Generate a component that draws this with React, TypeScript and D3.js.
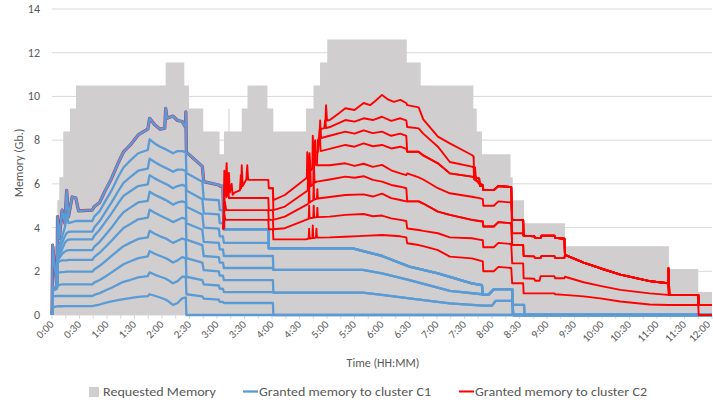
import React from 'react';
import * as d3 from 'd3';

type P = [number, number];

// ---------- Requested memory (step area), time in minutes, value in Gb ----------
const requestedTimes = [0, 5.8, 8, 12.3, 19.6, 26.2, 124, 144.3, 149.5, 165, 182.8, 187.6, 192.5, 193.6, 207, 213.3, 235, 241.4, 277, 285.3, 292.4, 300.3, 387, 402.2, 459.6, 463.3, 469, 500.2, 502.6, 515, 559.6, 673, 705, 720];
const requestedGb = [3.15, 5.25, 6.3, 8.4, 9.45, 10.5, 11.55, 10.5, 9.45, 8.4, 7.35, 8.4, 9.45, 8.4, 9.45, 10.5, 9.45, 8.4, 9.45, 10.5, 11.55, 12.6, 11.55, 10.5, 9.45, 8.4, 7.35, 6.3, 5.25, 4.2, 3.15, 2.1, 1.05, 1.05];

// ---------- Cluster C1 (stacked lines), common early times ----------
const c1Times = [0, 0.6, 5.4, 6, 8, 11, 14, 16, 18, 22, 26, 29, 44, 46, 52, 58, 65, 72, 78, 85, 94, 104.5, 106.5, 112, 118, 123, 124, 125.5, 132, 137, 142, 145.5, 146, 146.6, 164, 165.5, 182, 183, 186.5, 187.5, 236, 236.5, 241, 241.5];
const c1L1 = [0, 0.35, 0.39, 0.4, 0.4, 0.4, 0.41, 0.41, 0.41, 0.41, 0.41, 0.41, 0.41, 0.43, 0.48, 0.55, 0.62, 0.68, 0.73, 0.77, 0.83, 0.86, 0.95, 0.88, 0.8, 0.72, 0.7, 0.67, 0.46, 0.55, 0.76, 0.8, 0.8, 0, 0, 0, 0, 0, 0, 0, 0, 0, 0, 0];
const c1L2 = [0, 0.85, 0.87, 0.87, 0.87, 0.87, 0.87, 0.87, 0.87, 0.87, 0.87, 0.87, 0.87, 0.92, 1.0, 1.12, 1.25, 1.4, 1.52, 1.6, 1.72, 1.78, 1.95, 1.85, 1.75, 1.68, 1.66, 1.63, 1.45, 1.55, 1.75, 1.75, 1.75, 0.95, 0.85, 0.75, 0.7, 0.6, 0.6, 0.55, 0.55, 0.55, 0.55, 0];
const c1L3 = [0, 1.1, 1.2, 1.35, 1.38, 1.4, 1.4, 1.4, 1.4, 1.4, 1.4, 1.4, 1.4, 1.48, 1.6, 1.75, 1.95, 2.15, 2.32, 2.45, 2.6, 2.68, 2.92, 2.8, 2.7, 2.62, 2.6, 2.57, 2.4, 2.5, 2.65, 2.6, 2.6, 1.75, 1.6, 1.4, 1.35, 1.2, 1.2, 1.05, 1.05, 1.05, 1.05, 1.02];
const c1L4 = [0, 1.15, 1.25, 1.9, 1.95, 1.96, 1.97, 1.98, 1.98, 1.98, 1.98, 1.98, 1.98, 2.08, 2.25, 2.45, 2.7, 2.95, 3.15, 3.3, 3.48, 3.55, 3.85, 3.72, 3.6, 3.52, 3.5, 3.47, 3.3, 3.4, 3.5, 3.45, 3.45, 2.6, 2.4, 2.05, 2.0, 1.8, 1.8, 1.6, 1.6, 1.6, 1.6, 1.02];
const c1L5 = [0, 1.2, 1.3, 2.4, 2.45, 2.5, 2.5, 2.5, 2.52, 2.52, 2.52, 2.52, 2.52, 2.65, 2.85, 3.1, 3.4, 3.72, 3.98, 4.15, 4.38, 4.45, 4.82, 4.68, 4.55, 4.45, 4.43, 4.4, 4.25, 4.35, 4.45, 4.4, 4.4, 3.45, 3.2, 2.7, 2.65, 2.4, 2.4, 2.15, 2.15, 2.15, 2.15, 2.06];
const c1L6 = [0, 1.2, 1.3, 2.5, 2.6, 2.8, 2.9, 2.95, 2.97, 2.97, 2.97, 2.97, 2.97, 3.12, 3.35, 3.65, 4.0, 4.4, 4.7, 4.9, 5.15, 5.22, 5.64, 5.5, 5.38, 5.28, 5.26, 5.23, 5.05, 5.15, 5.2, 5.15, 5.15, 4.2, 3.9, 3.35, 3.3, 3.0, 3.0, 2.7, 2.7, 2.7, 2.7, 2.06];
const c1L7 = [0, 1.2, 1.3, 2.6, 2.7, 3.0, 3.3, 3.4, 3.45, 3.46, 3.46, 3.46, 3.46, 3.62, 3.9, 4.25, 4.65, 5.1, 5.45, 5.65, 5.9, 5.98, 6.4, 6.25, 6.12, 6.02, 6.0, 5.97, 5.8, 5.9, 5.95, 5.9, 5.9, 4.95, 4.6, 4.0, 3.95, 3.6, 3.6, 3.3, 3.3, 3.05, 3.05, 3.05];
const c1L8 = [0, 1.2, 1.3, 2.7, 2.9, 3.3, 3.6, 3.75, 3.8, 3.81, 3.81, 3.81, 3.81, 4.0, 4.3, 4.7, 5.15, 5.65, 6.05, 6.3, 6.6, 6.7, 7.15, 7.0, 6.85, 6.75, 6.73, 6.7, 6.55, 6.65, 6.65, 6.6, 6.6, 5.7, 5.3, 4.65, 4.6, 4.2, 4.2, 3.92, 3.92, 3.05, 3.05, 3.05];
const c1L9 = [0, 1.25, 1.3, 2.8, 3.2, 3.6, 4.0, 4.6, 4.2, 4.25, 4.3, 4.3, 4.3, 4.5, 4.75, 5.2, 5.7, 6.3, 6.75, 7.05, 7.4, 7.55, 8.04, 7.85, 7.7, 7.6, 7.58, 7.55, 7.4, 7.5, 7.5, 7.45, 7.45, 6.5, 6.1, 5.3, 5.25, 4.8, 4.8, 3.92, 3.92, 3.05, 3.05, 3.05];
const c1L10 = [0, 3.2, 1.3, 4.5, 3.5, 4.8, 4.2, 5.7, 4.5, 5.4, 5.35, 4.76, 4.8, 4.95, 5.15, 5.69, 6.25, 6.94, 7.46, 7.76, 8.24, 8.5, 9.0, 8.7, 8.5, 8.55, 9.46, 9.0, 9.1, 8.9, 8.85, 8.6, 9.3, 7.45, 6.8, 6.1, 5.95, 5.9, 5.9, 3.92, 3.92, 3.05, 3.05, 3.05];

// C1 tails after 4:00
const c1TailZero: P[] = [[720, 0]];
const c1TailLow: P[] = [[339, 1.02], [360, 0.92], [390, 0.76], [434, 0.53], [470, 0.43], [480, 0.43], [484, 0.65], [502, 0.65], [503, 0.46], [515, 0.46], [515.5, 0], [720, 0]];
const c1TailMid: P[] = [[339, 2.06], [360, 1.9], [390, 1.6], [434, 1.1], [469, 0.95], [470, 0.92], [476, 0.92], [482, 1.18], [502, 1.18], [503, 0], [720, 0]];
const c1TailTop: P[] = [[328, 3.05], [360, 2.7], [390, 2.21], [421, 1.9], [458, 1.45], [469, 1.37], [470, 0.92], [476, 0.92], [482, 1.18], [502, 1.18], [503, 0], [720, 0]];

// ---------- Cluster C2 (stacked lines above C1 total) ----------
const c2R1: P[] = [[187, 3.92], [188, 4.6], [189, 4.35], [236, 4.35], [236.5, 3.92], [241, 3.92], [241.5, 3.46], [277, 3.46], [280, 3.5], [280.5, 3.95], [281, 3.5], [284, 3.52], [284.5, 4.1], [285, 3.52], [288, 3.54], [288.5, 3.95], [289, 3.54], [303, 3.55], [320, 3.58], [340, 3.62], [360, 3.66], [380, 3.6], [386.5, 3.55], [387.5, 3.28], [400, 3.2], [405, 3.15], [421, 2.97], [434, 2.67], [458, 2.59], [466, 2.5], [470, 2.45], [470.5, 2.0], [482, 2.0], [487, 2.2], [501, 2.15], [502, 1.45], [514, 1.45]];
const c2R2: P[] = [[187, 3.92], [188.5, 5.2], [190, 4.8], [236, 4.8], [236.5, 4.35], [241, 4.35], [241.5, 3.92], [254, 3.97], [277, 4.35], [280, 4.4], [280.5, 5.0], [281, 4.42], [285, 4.45], [285.5, 5.0], [286, 4.46], [289, 4.48], [289.5, 4.9], [290, 4.48], [303, 4.5], [320, 4.58], [340, 4.62], [350, 4.52], [360, 4.55], [370, 4.42], [380, 4.35], [386.5, 4.3], [387.5, 3.96], [400, 3.89], [405, 3.85], [421, 3.74], [434, 3.55], [458, 3.51], [466, 3.45], [470, 3.42], [470.5, 3.1], [482, 3.1], [487, 3.3], [501, 3.25], [502, 2.36], [514, 2.36]];
const c2R3: P[] = [[187, 3.92], [189, 6.2], [190.5, 5.4], [192, 5.9], [193, 5.35], [236, 5.35], [236.5, 4.8], [241, 4.8], [241.5, 4.35], [254, 4.5], [277, 5.03], [280, 5.1], [280.5, 6.3], [281, 5.15], [285, 5.25], [285.5, 6.0], [286, 5.28], [289, 5.32], [289.5, 5.75], [290, 5.33], [303, 5.4], [320, 5.49], [340, 5.52], [350, 5.42], [360, 5.55], [370, 5.35], [380, 5.26], [386.5, 5.2], [400, 5.2], [405, 5.1], [421, 4.73], [434, 4.58], [458, 4.35], [466, 4.3], [470, 4.28], [470.5, 4.05], [482, 4.05], [487, 4.25], [501, 4.2], [502, 3.2], [514, 3.2]];
const c2R4: P[] = [[187, 3.92], [188, 6.6], [189, 5.6], [190.5, 6.94], [191.5, 5.8], [193, 6.5], [194, 5.6], [196, 6.0], [197, 5.5], [199, 5.6], [205, 5.7], [206, 6.4], [206.5, 5.8], [207, 6.85], [208, 5.9], [212, 6.2], [213, 6.85], [214, 6.18], [236, 6.18], [236.5, 5.8], [241, 5.8], [241.5, 4.8], [254, 4.96], [277, 5.64], [279, 5.7], [279.5, 6.9], [280.5, 5.75], [281.5, 6.9], [282.5, 5.9], [285, 6.0], [285.5, 7.1], [286.5, 6.05], [289, 6.1], [303, 6.2], [320, 6.33], [330, 6.28], [340, 6.35], [350, 6.18], [360, 6.1], [370, 5.95], [380, 5.87], [386.5, 5.8], [387.5, 5.2], [400, 5.2], [405, 5.1], [421, 4.73], [434, 4.58], [458, 4.35], [466, 4.3], [470, 4.28], [470.5, 4.05], [482, 4.05], [487, 4.25], [501, 4.2], [502, 3.2], [514, 3.2]];
const c2R5: P[] = [[236.5, 5.8], [241, 5.8], [241.5, 5.26], [254, 5.49], [277, 6.25], [278, 6.3], [278.5, 7.45], [279.5, 6.4], [281, 7.4], [282, 6.6], [284, 6.7], [284.5, 8.2], [285.5, 6.75], [287, 8.0], [288, 6.85], [303, 6.85], [320, 6.94], [330, 6.82], [340, 6.92], [350, 6.78], [360, 6.87], [370, 6.62], [380, 6.48], [386.5, 6.4], [387.5, 6.48], [400, 6.3], [405, 6.2], [421, 5.8], [434, 5.57], [458, 5.41], [466, 5.35], [470, 5.3], [470.5, 5.0], [482, 5.0], [487, 5.2], [501, 5.15], [502, 3.74], [514, 3.74]];
const c2R6: P[] = [[285.5, 6.75], [286, 7.4], [290, 7.45], [292, 8.5], [293, 7.5], [303, 7.6], [320, 7.78], [330, 7.7], [340, 7.85], [350, 7.72], [360, 7.78], [370, 7.62], [380, 7.7], [386.5, 7.6], [387.5, 7.47], [400, 7.47], [405, 7.3], [421, 6.94], [434, 6.48], [458, 6.33], [466, 6.25], [467, 5.9], [470, 5.9], [470.5, 5.72], [482, 5.72], [487, 5.9], [501, 5.85], [502, 4.35], [514, 4.35]];
const c2R7: P[] = [[289, 6.85], [290, 8.0], [292, 8.1], [292.5, 8.9], [293.5, 8.1], [303, 8.2], [320, 8.39], [330, 8.3], [340, 8.45], [350, 8.32], [360, 8.39], [370, 8.2], [380, 8.3], [386.5, 8.2], [387.5, 7.47], [400, 7.47], [405, 7.3], [421, 6.94], [434, 6.48], [458, 6.33], [466, 6.25], [467, 5.9], [470, 5.9], [470.5, 5.72], [482, 5.72], [487, 5.9], [501, 5.85], [502, 4.35], [514, 4.35]];
const c2R8: P[] = [[292, 8.1], [293, 8.5], [297, 8.55], [298, 8.9], [299, 8.55], [303, 8.6], [320, 8.92], [330, 8.85], [340, 9.0], [350, 8.92], [360, 9.07], [370, 8.88], [380, 9.0], [386.5, 8.9], [387.5, 8.6], [400, 8.54], [405, 8.3], [421, 7.7], [434, 7.0], [458, 6.79], [460, 6.75], [460.5, 6.2], [466, 6.05], [470, 5.95], [470.5, 5.72], [482, 5.72], [487, 5.9], [501, 5.85], [502, 4.35], [514, 4.35]];
const c2R9: P[] = [[298, 8.6], [299, 9.6], [300, 8.9], [303, 8.92], [312, 9.2], [320, 9.46], [330, 9.38], [340, 9.7], [347, 9.6], [353, 9.8], [360, 10.07], [367, 9.85], [373, 9.75], [380, 9.84], [386.5, 9.7], [387.5, 9.6], [400, 9.5], [405, 8.95], [421, 8.16], [434, 7.85], [458, 7.32], [460, 7.25], [460.5, 6.3], [461.5, 6.75], [462.5, 6.2], [466, 6.0], [470, 5.95], [470.5, 5.72], [482, 5.72], [487, 5.9], [501, 5.85], [502, 4.35], [514, 4.35]];

// C2 tails after 8:35
const c2TailTop: P[] = [[514.5, 3.63], [526, 3.6], [527, 3.53], [533, 3.53], [534, 3.63], [548, 3.63], [549, 3.53], [559, 3.49], [559.6, 2.75], [580, 2.4], [598, 2.14], [620, 1.85], [652, 1.55], [672, 1.45], [672.5, 2.14], [673.5, 0.92], [705, 0.92], [705.5, 0.46], [720, 0.46]];
const c2TailR34: P[] = [[514.5, 2.7], [526, 2.68], [527, 2.6], [533, 2.6], [534, 2.7], [548, 2.7], [549, 2.6], [559, 2.6], [559.6, 2.75], [580, 2.4], [598, 2.14], [620, 1.85], [652, 1.55], [672, 1.45], [673, 0.92], [705, 0.92], [705.5, 0.46], [720, 0.46]];
const c2TailR2: P[] = [[514.5, 1.68], [526, 1.66], [527, 1.57], [532, 1.57], [533, 1.78], [548, 1.78], [549, 1.68], [559, 1.68], [559.6, 1.75], [580, 1.5], [598, 1.33], [620, 1.15], [652, 0.99], [672, 0.92], [705, 0.92], [705.5, 0.46], [720, 0.46]];
const c2TailR1: P[] = [[514.5, 0.99], [548, 0.99], [549, 0.95], [559, 0.92], [580, 0.85], [598, 0.76], [620, 0.62], [652, 0.48], [672, 0.46], [705, 0.46], [705.5, 0], [720, 0]];

// ---------- Axes ----------
const yTicks = [0, 2, 4, 6, 8, 10, 12, 14];
const xTickLabels = ['0:00', '0:30', '1:00', '1:30', '2:00', '2:30', '3:00', '3:30', '4:00', '4:30', '5:00', '5:30', '6:00', '6:30', '7:00', '7:30', '8:00', '8:30', '9:00', '9:30', '10:00', '10:30', '11:00', '11:30', '12:00'];
const legendLabels = ['Requested Memory', 'Granted memory to cluster C1', 'Granted memory to cluster C2'];

const FONT = "Carlito, Calibri, Lato, 'Open Sans', sans-serif";
const GRAY = '#d0cece';
const BLUE = '#5b9bd5';
const RED = '#ff0000';
const TXT = '#595959';
const GRID = '#d9d9d9';

const zip = (ts: number[], vs: number[]): P[] => ts.map((t, i) => [t, vs[i]] as P);

export default function App() {
  const x = d3.scaleLinear().domain([0, 720]).range([52, 712]);
  const y = d3.scaleLinear().domain([0, 14]).range([315, 9]);
  const line = d3.line<P>().x(d => x(d[0])).y(d => y(d[1]));
  const area = d3.area<P>().x(d => x(d[0])).y0(y(0)).y1(d => y(d[1])).curve(d3.curveStepAfter);

  const requested = zip(requestedTimes, requestedGb);
  const c1 = [
    [...zip(c1Times, c1L1), ...c1TailZero],
    [...zip(c1Times, c1L2), ...c1TailZero],
    [...zip(c1Times, c1L3), ...c1TailLow],
    [...zip(c1Times, c1L4), ...c1TailLow],
    [...zip(c1Times, c1L5), ...c1TailMid],
    [...zip(c1Times, c1L6), ...c1TailMid],
    [...zip(c1Times, c1L7), ...c1TailTop],
    [...zip(c1Times, c1L8), ...c1TailTop],
    [...zip(c1Times, c1L9), ...c1TailTop],
    [...zip(c1Times, c1L10), ...c1TailTop],
  ];
  const c1TopEarly = zip(c1Times, c1L10).filter(d => d[0] <= 187.5);
  const c2 = [
    [...c2R1, ...c2TailR1],
    [...c2R2, ...c2TailR2],
    [...c2R3, ...c2TailR34],
    [...c2R4, ...c2TailR34],
    [...c2R5, ...c2TailTop],
    [...c2R6, ...c2TailTop],
    [...c2R7, ...c2TailTop],
    [...c2R8, ...c2TailTop],
    [...c2R9, ...c2TailTop],
  ];

  const minorTicks = d3.range(0, 721, 15);

  return (
    <svg width={713} height={403} style={{ position: 'absolute', left: 0, top: 0, fontFamily: FONT }}>
      <rect x={0} y={0} width={713} height={403} fill="#ffffff" />
      {yTicks.map(v => (
        <line key={'g' + v} x1={x(0)} x2={x(720)} y1={y(v)} y2={y(v)} stroke={GRID} strokeWidth={1} />
      ))}
      <path d={area(requested) || ''} fill={GRAY} />
      {minorTicks.map(t => (
        <line key={'t' + t} x1={x(t)} x2={x(t)} y1={y(0)} y2={y(0) + 4} stroke={GRID} strokeWidth={1} />
      ))}
      <path d={line(c1TopEarly) || ''} fill="none" stroke="#a8386e" strokeWidth={3.2} strokeLinejoin="round" />
      {c1.map((pts, i) => (
        <path key={'b' + i} d={line(pts) || ''} fill="none" stroke={BLUE} strokeWidth={2.3} strokeLinejoin="round" />
      ))}
      {c2.map((pts, i) => (
        <path key={'r' + i} d={line(pts) || ''} fill="none" stroke={RED} strokeWidth={1.9} strokeLinejoin="round" />
      ))}
      {yTicks.map(v => (
        <text key={'yl' + v} x={40} y={y(v) + 4} textAnchor="end" fontSize={12} fill={TXT}>{v}</text>
      ))}
      {xTickLabels.map((s, i) => (
        <text key={'xl' + i} transform={`translate(${Math.min(x(i * 30) + 2.5, 711)},${325}) rotate(-45)`} textAnchor="end" fontSize={11} fill={TXT}>{s}</text>
      ))}
      <text transform="translate(23,163) rotate(-90)" textAnchor="middle" fontSize={12} fill={TXT}>Memory (Gb.)</text>
      <text x={383} y={367} textAnchor="middle" fontSize={12} fill={TXT}>Time (HH:MM)</text>
      <rect x={89} y={387} width={10} height={10} fill={GRAY} />
      <text x={103} y={396} fontSize={12.5} fill={TXT} textLength={113} lengthAdjust="spacingAndGlyphs">{legendLabels[0]}</text>
      <line x1={243} x2={258} y1={391.5} y2={391.5} stroke={BLUE} strokeWidth={2.3} />
      <text x={259} y={396} fontSize={12.5} fill={TXT} textLength={172} lengthAdjust="spacingAndGlyphs">{legendLabels[1]}</text>
      <line x1={459} x2={474} y1={391.5} y2={391.5} stroke={RED} strokeWidth={2} />
      <text x={475} y={396} fontSize={12.5} fill={TXT} textLength={172} lengthAdjust="spacingAndGlyphs">{legendLabels[2]}</text>
    </svg>
  );
}
